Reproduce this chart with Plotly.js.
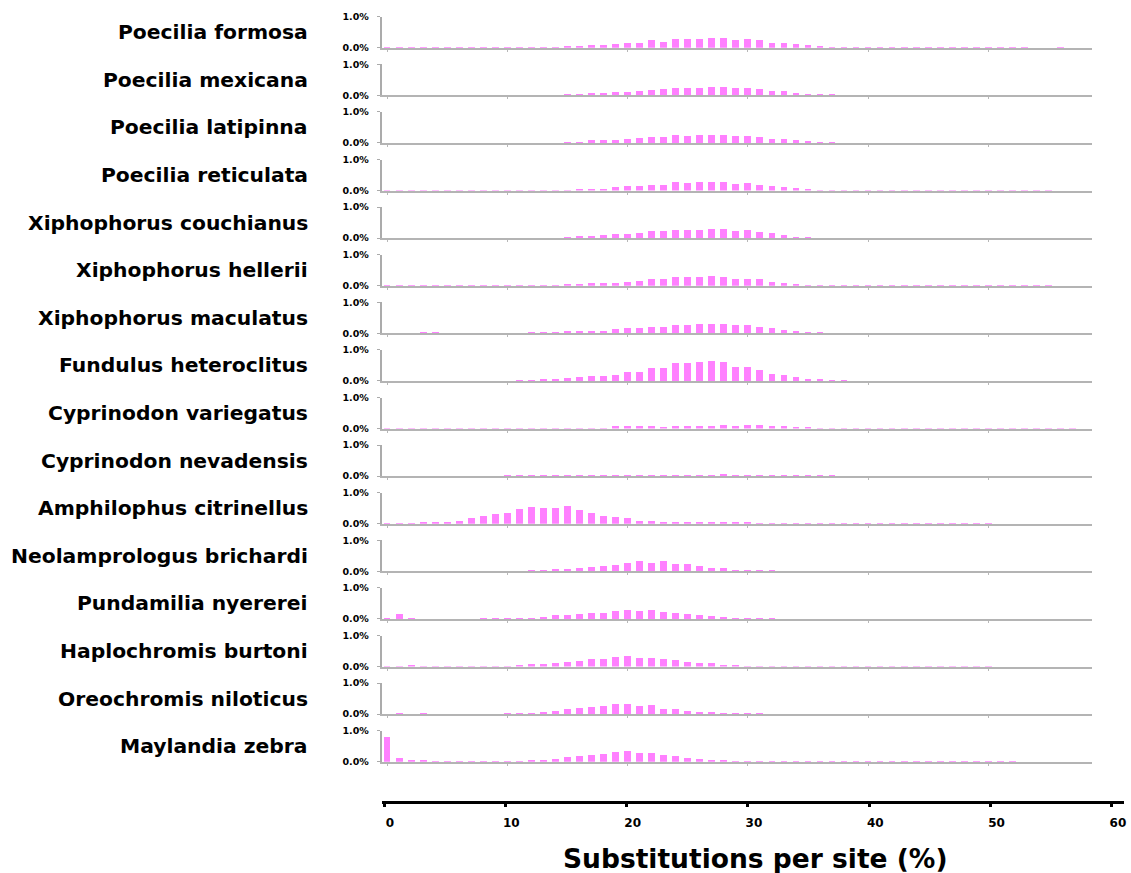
<!DOCTYPE html>
<html><head><meta charset="utf-8">
<script src="https://cdn.plot.ly/plotly-3.0.1.min.js"></script>
<style>html,body{margin:0;padding:0;background:#fff;}</style>
</head><body>
<div id="chart" style="width:1131px;height:873px;"></div>
<script>
// ---------- DATA ----------
const bins = [0,1,2,3,4,5,6,7,8,9,10,11,12,13,14,15,16,17,18,19,20,21,22,23,24,25,26,27,28,29,30,31,32,33,34,35,36,37,38,39,40,41,42,43,44,45,46,47,48,49,50,51,52,53,54,55,56,57,58];
const xTickVals = [0,10,20,30,40,50,60];
const yTickText = ['0.0%','1.0%'];
const xTitle = 'Substitutions per site (%)';

const species = [
  'Poecilia formosa','Poecilia mexicana','Poecilia latipinna','Poecilia reticulata',
  'Xiphophorus couchianus','Xiphophorus hellerii','Xiphophorus maculatus','Fundulus heteroclitus',
  'Cyprinodon variegatus','Cyprinodon nevadensis','Amphilophus citrinellus','Neolamprologus brichardi',
  'Pundamilia nyererei','Haplochromis burtoni','Oreochromis niloticus','Maylandia zebra'
];

// values in % of sites, one per bin (0..58)
const poeciliaFormosa = [.01,.01,.01,.01,.01,.01,.01,.01,.01,.01,.01,.01,.01,.01,.01,.05,.05,.09,.09,.13,.15,.15,.24,.20,.28,.28,.28,.31,.31,.26,.28,.24,.15,.15,.11,.08,.04,.02,.01,.01,.01,.01,.01,.01,.01,.01,.01,.01,.01,.01,.01,.01,.01,.01,0,0,.01,0,0];
const poeciliaMexicana = [.01,.01,.01,.01,.01,.01,.01,.01,.01,.01,.01,.01,.01,.01,.01,.03,.03,.06,.06,.11,.11,.14,.17,.19,.24,.24,.24,.27,.27,.22,.24,.19,.14,.14,.09,.05,.03,.03,.01,.01,.01,.01,.01,.01,.01,.01,.01,.01,.01,.01,.01,.01,.01,0,0,0,0,0,0];
const poeciliaLatipinna = [.01,.01,.01,.01,.01,.01,.01,.01,.01,.01,.01,.01,.01,.01,.01,.04,.04,.08,.08,.10,.13,.15,.20,.20,.26,.23,.26,.26,.26,.23,.23,.18,.13,.12,.08,.05,.03,.02,.01,.01,.01,.01,.01,.01,.01,.01,.01,.01,.01,.01,.01,.01,.01,0,0,0,0,0,0];
const poeciliaReticulata = [.01,.01,.02,.02,.02,.01,.01,.01,.01,.01,.01,.01,.01,.01,.01,.02,.04,.04,.06,.10,.13,.13,.17,.17,.26,.23,.26,.28,.26,.20,.23,.17,.13,.12,.07,.05,.03,.02,.01,.01,.01,.01,.01,.01,.01,.01,.01,.01,.01,.01,.01,.01,.01,.01,.01,.01,0,0,0];
const xiphophorusCouchianus = [.01,.01,.01,.01,.01,.01,.01,.01,.01,.01,.01,.01,.01,.01,.01,.03,.06,.06,.10,.12,.14,.17,.23,.23,.27,.27,.27,.30,.30,.23,.25,.19,.15,.10,.05,.02,.01,.01,.01,.01,.01,.01,.01,.01,.01,.01,.01,.01,.01,.01,.01,.01,.01,.01,.01,.01,.01,.01,0];
const xiphophorusHellerii = [.01,.01,.01,.01,.01,.01,.01,.01,.01,.01,.01,.01,.01,.01,.01,.04,.04,.08,.08,.10,.13,.15,.20,.20,.28,.28,.28,.31,.28,.23,.23,.20,.13,.10,.05,.03,.02,.01,.01,.01,.01,.01,.01,.01,.01,.01,.01,.01,.01,.01,.01,.01,.01,.01,.01,.01,0,0,0];
const xiphophorusMaculatus = [.01,.01,.01,.03,.03,.01,.01,.01,.01,.01,.01,.01,.03,.03,.03,.06,.06,.08,.08,.13,.16,.16,.20,.20,.28,.28,.31,.31,.31,.26,.26,.20,.16,.12,.08,.05,.03,.01,.01,.01,.01,.01,.01,.01,.01,.01,.01,.01,.01,.01,.01,.01,.01,.01,.01,.01,.01,0,0];
const fundulusHeteroclitus = [.01,.01,.01,.01,.01,.01,.01,.01,.01,.01,.01,.04,.04,.05,.06,.10,.13,.16,.16,.20,.28,.28,.40,.40,.58,.58,.60,.63,.60,.45,.45,.34,.23,.18,.12,.07,.05,.03,.02,.01,.01,.01,.01,.01,.01,.01,.01,.01,.01,.01,.01,.01,.01,.01,.01,.01,.01,.01,.01];
const cyprinodonVariegatus = [.01,.01,.01,.01,.01,.01,.01,.01,.01,.01,.01,.03,.02,.02,.02,.03,.03,.03,.03,.07,.07,.07,.07,.04,.07,.07,.07,.07,.10,.07,.10,.10,.07,.07,.05,.04,.03,.02,.01,.01,.01,.01,.01,.01,.01,.01,.01,.01,.01,.01,.01,.01,.01,.01,.01,.01,.01,.01,0];
const cyprinodonNevadensis = [.01,.01,.01,.01,.01,.01,.01,.01,.01,.01,.02,.03,.03,.03,.03,.05,.05,.05,.04,.04,.04,.03,.04,.04,.05,.05,.05,.05,.06,.05,.05,.04,.04,.04,.02,.02,.02,.02,.01,.01,.01,.01,.01,.01,.01,.01,.01,.01,.01,.01,.01,.01,.01,.01,.01,.01,.01,.01,.01];
const amphilophusCitrinellus = [.01,.01,.01,.04,.04,.07,.10,.17,.26,.32,.34,.47,.53,.51,.51,.56,.43,.34,.26,.22,.17,.10,.10,.07,.07,.05,.05,.05,.05,.05,.05,.02,.02,.02,.02,.01,.01,.01,.01,.01,.01,.01,.01,.01,.01,.01,.01,.01,.01,.01,.01,0,0,0,0,0,0,0,0];
const neolamprologusBrichardi = [.01,.01,.01,.01,.01,.01,.01,.01,.01,.01,.02,.02,.04,.04,.06,.06,.12,.15,.17,.19,.27,.32,.27,.32,.25,.25,.17,.12,.10,.05,.05,.03,.03,.01,.01,.01,.01,.01,.01,.01,.01,.01,.01,.01,.01,.01,.01,.01,.01,.01,.01,0,0,0,0,0,0,0,0];
const pundamiliaNyererei = [.04,.17,.03,.01,.01,.01,.01,.01,.02,.02,.02,.02,.03,.06,.11,.13,.15,.19,.19,.27,.29,.27,.29,.22,.19,.15,.13,.10,.06,.03,.03,.03,.02,.01,.01,.01,.01,.01,.01,.01,.01,.01,.01,.01,.01,.01,.01,.01,.01,.01,.01,.01,.01,.01,.01,0,0,0,0];
const haplochromisBurtoni = [.01,.01,.04,.01,.01,.01,.01,.01,.01,.01,.01,.04,.08,.08,.11,.15,.17,.23,.23,.30,.33,.27,.27,.23,.20,.15,.10,.10,.06,.04,.03,.02,.01,.01,.01,.01,.01,.01,.01,.01,.01,.01,.01,.01,.01,.01,.01,.01,.01,.01,.01,0,0,0,0,0,0,0,0];
const oreochromisNiloticus = [.01,.02,.01,.02,.01,.01,.01,.01,.01,.01,.02,.05,.05,.08,.10,.18,.20,.23,.26,.33,.33,.26,.29,.18,.18,.10,.08,.08,.05,.02,.02,.02,.01,.01,.01,.01,.01,.01,.01,.01,.01,.01,.01,.01,.01,.01,.01,.01,.01,.01,.01,0,0,0,0,0,0,0,0];
const maylandiaZebra = [.81,.12,.06,.06,.03,.01,.01,.01,.01,.01,.01,.03,.04,.05,.09,.14,.17,.23,.25,.31,.34,.29,.29,.22,.18,.12,.09,.05,.05,.03,.03,.02,.01,.01,.01,.01,.01,.01,.01,.01,.01,.01,.01,.01,.01,.01,.01,.01,.01,.01,.01,.01,.01,0,0,0,0,0,0];

const seriesList = [poeciliaFormosa,poeciliaMexicana,poeciliaLatipinna,poeciliaReticulata,
  xiphophorusCouchianus,xiphophorusHellerii,xiphophorusMaculatus,fundulusHeteroclitus,
  cyprinodonVariegatus,cyprinodonNevadensis,amphilophusCitrinellus,neolamprologusBrichardi,
  pundamiliaNyererei,haplochromisBurtoni,oreochromisNiloticus,maylandiaZebra];

// ---------- LAYOUT ----------
const W = 1131, H = 873;
const FONT = 'DejaVu Sans';
const plotLeft = 381.7, plotRight = 1091.7;
const firstBase = 47.7, panelStep = 47.6, panelH = 31;

const traces = [];
const layout = {
  width: W, height: H,
  margin: {l:0, r:0, t:0, b:0, pad:0},
  paper_bgcolor: '#ffffff', plot_bgcolor: 'rgba(0,0,0,0)',
  showlegend: false,
  bargap: 0,
  annotations: []
};

species.forEach((name, k) => {
  const s = k === 0 ? '' : String(k+1);
  const base = firstBase + panelStep*k;
  const top = base - panelH;
  traces.push({
    type: 'bar', x: bins, y: seriesList[k], name: name,
    xaxis: 'x'+s, yaxis: 'y'+s, width: 0.56,
    marker: {color: '#ff80ff', line: {width: 0}},
    hoverinfo: 'x+y'
  });
  layout['xaxis'+s] = {
    domain: [plotLeft/W, plotRight/W], range: [-0.45, 58.6], anchor: 'y'+s,
    showline: true, linecolor: '#b4b4b4', linewidth: 2, layer: 'below traces',
    ticks: 'outside', ticklen: 2, tickwidth: 1, tickcolor: '#b8b8b8',
    tickmode: 'array', tickvals: xTickVals, showticklabels: false,
    showgrid: false, zeroline: false, fixedrange: true
  };
  layout['yaxis'+s] = {
    domain: [1 - base/H, 1 - top/H], range: [0, 1], anchor: 'x'+s,
    showline: true, linecolor: '#ababab', linewidth: 2,
    ticks: 'outside', ticklen: 3, tickwidth: 1, tickcolor: '#ababab',
    tickmode: 'array', tickvals: [0, 1], ticktext: yTickText,
    tickfont: {family: FONT, size: 9.5, color: '#000', weight: 'bold'},
    ticklabelstandoff: 6,
    showgrid: true, gridcolor: '#f4f4f4', gridwidth: 1,
    zeroline: false, fixedrange: true
  };
  layout.annotations.push({
    text: name, xref: 'paper', yref: 'paper',
    x: 310/W, y: 1 - (base - panelH/2)/H, xanchor: 'right', yanchor: 'middle',
    showarrow: false, font: {family: FONT, size: 20.3, color: '#000', weight: 'bold'}
  });
});

// bottom scale axis
const axisY = 800.8;
traces.push({type:'scatter', x:[0], y:[0], mode:'markers', marker:{opacity:0}, xaxis:'x17', yaxis:'y17', hoverinfo:'skip'});
layout.xaxis17 = {
  domain: [plotLeft/W, 1124/W], range: [-0.19, 61.0], anchor: 'y17',
  showline: true, linecolor: '#000', linewidth: 3,
  ticks: 'outside', ticklen: 3, tickwidth: 3, tickcolor: '#000',
  tickmode: 'array', tickvals: xTickVals,
  tickfont: {family: FONT, size: 12, color: '#000', weight: 'bold'},
  ticklabelshift: 6, ticklabelstandoff: 6,
  showgrid: false, zeroline: false, fixedrange: true
};
layout.yaxis17 = {domain: [1 - axisY/H, 1 - 785/H], anchor: 'x17', visible: false, fixedrange: true};

layout.annotations.push({
  text: xTitle, xref: 'paper', yref: 'paper',
  x: 755/W, y: 1 - 858/H, xanchor: 'center', yanchor: 'middle',
  showarrow: false, font: {family: FONT, size: 26.5, color: '#000', weight: 'bold'}
});

Plotly.newPlot('chart', traces, layout, {displayModeBar: false, staticPlot: true});
</script>
</body></html>
